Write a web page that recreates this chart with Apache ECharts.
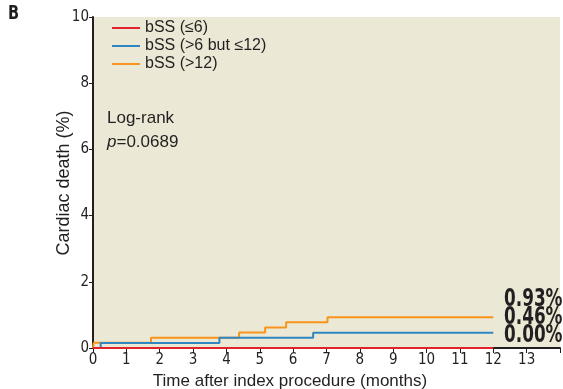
<!DOCTYPE html>
<html>
<head>
<meta charset="utf-8">
<script src="https://cdn.jsdelivr.net/npm/echarts@6/dist/echarts.min.js"></script>
<style>
  html, body { margin: 0; padding: 0; background: #fff; }
  #chart { width: 563px; height: 389px; }
</style>
</head>
<body>
<div id="chart"></div>
<script>
// series names + step points (time in months, cumulative %)
const seriesNames = ['bSS (≤6)', 'bSS (>6 but ≤12)', 'bSS (>12)'];
const lowTimes = [0, 12];
const lowValues = [0, 0];
const midTimes = [0, 0.23, 3.79, 6.6, 12];
const midValues = [0, 0.153, 0.307, 0.46, 0.46];
const highTimes = [0, 0.02, 1.74, 4.38, 5.16, 5.79, 7.03, 12];
const highValues = [0, 0.155, 0.31, 0.465, 0.62, 0.775, 0.93, 0.93];
const finalLabels = ['0.93%', '0.46%', '0.00%'];
const xTicks = [0, 1, 2, 3, 4, 5, 6, 7, 8, 9, 10, 11, 12, 13];

const colors = ['#e3232b', '#2f86c0', '#f7941d'];
const narrow = '"Liberation Sans Narrow", "DejaVu Sans Condensed", "Liberation Sans", sans-serif';
const regular = '"Liberation Sans", Arial, sans-serif';

const pairs = (xs, ys) => xs.map((x, i) => [x, ys[i]]);

const chart = echarts.init(document.getElementById('chart'));

chart.setOption({
    animation: false,
    grid: {
        left: 93,
        right: 0,
        top: 17,
        bottom: 41,
        show: true,
        backgroundColor: '#ece8d6',
        borderWidth: 0,
    },
    legend: {
        orient: 'vertical',
        left: 107,
        top: 15,
        itemWidth: 28,
        itemHeight: 2,
        itemGap: 2,
        icon: 'rect',
        data: seriesNames,
        textStyle: {
            fontFamily: regular,
            fontSize: 16,
            color: '#231f20',
            lineHeight: 16,
        },
    },
    xAxis: {
        type: 'value',
        min: 0,
        max: 14,
        interval: 1,
        splitLine: { show: false },
        axisLine: { lineStyle: { color: '#231f20', width: 2 } },
        axisTick: { length: 5, lineStyle: { color: '#231f20', width: 1 } },
        axisLabel: {
            fontFamily: narrow,
            fontSize: 15,
            color: '#231f20',
            margin: 5,
            formatter: (v) => (xTicks.includes(v) ? String(v) : ''),
        },
    },
    yAxis: {
        type: 'value',
        min: 0,
        max: 10,
        interval: 2,
        splitLine: { show: false },
        axisLine: { show: true, lineStyle: { color: '#231f20', width: 2 } },
        axisTick: { show: true, length: 4, lineStyle: { color: '#231f20', width: 1 } },
        axisLabel: {
            fontFamily: narrow,
            fontSize: 15,
            color: '#231f20',
            margin: 4,
        },
    },
    series: [
        {
            name: seriesNames[0],
            type: 'line',
            step: 'end',
            showSymbol: false,
            data: pairs(lowTimes, lowValues),
            lineStyle: { color: colors[0], width: 2 },
            itemStyle: { color: colors[0] },
            z: 5,
        },
        {
            name: seriesNames[1],
            type: 'line',
            step: 'end',
            showSymbol: false,
            data: pairs(midTimes, midValues),
            lineStyle: { color: colors[1], width: 2 },
            itemStyle: { color: colors[1] },
            z: 4,
        },
        {
            name: seriesNames[2],
            type: 'line',
            step: 'end',
            showSymbol: false,
            data: pairs(highTimes, highValues),
            lineStyle: { color: colors[2], width: 2 },
            itemStyle: { color: colors[2] },
            z: 3,
        },
    ],
    graphic: [
        {
            type: 'text',
            x: 8,
            y: 5,
            scaleX: 0.85,
            style: { text: 'B', font: 'bold 19px ' + narrow, fill: '#231f20' },
        },
        {
            type: 'text',
            left: 107,
            top: 106,
            style: {
                text: 'Log-rank\n{i|p}=0.0689',
                font: '17px ' + regular,
                fill: '#231f20',
                lineHeight: 24,
                rich: {
                    i: { fontStyle: 'italic', fontFamily: regular, fontSize: 17, fill: '#231f20' },
                },
            },
        },
        {
            type: 'text',
            x: 64,
            y: 183,
            rotation: Math.PI / 2,
            style: {
                text: 'Cardiac death (%)',
                font: '18px ' + regular,
                fill: '#231f20',
                align: 'center',
                verticalAlign: 'middle',
            },
        },
        {
            type: 'text',
            x: 290,
            y: 381,
            style: {
                text: 'Time after index procedure (months)',
                font: '17px ' + regular,
                fill: '#231f20',
                align: 'center',
                verticalAlign: 'middle',
            },
        },
        {
            type: 'text',
            x: 504,
            y: 290,
            scaleX: 0.75,
            z: 10,
            style: {
                text: finalLabels.join('\n'),
                font: 'bold 25px ' + narrow,
                fill: '#231f20',
                lineHeight: 18,
                verticalAlign: 'top',
            },
        },
    ],
});
</script>
</body>
</html>
